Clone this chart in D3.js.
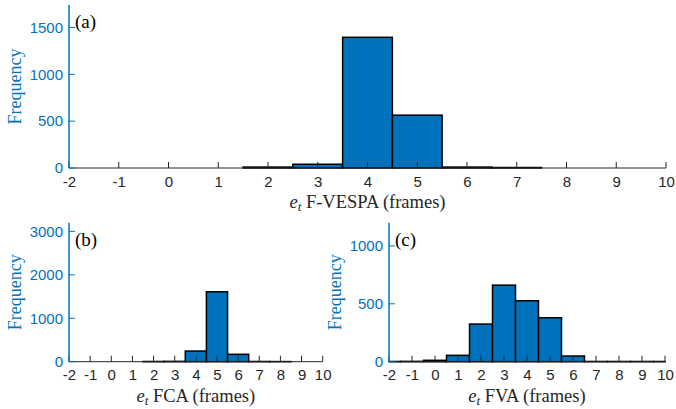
<!DOCTYPE html>
<html>
<head>
<meta charset="utf-8">
<script src="https://cdn.jsdelivr.net/npm/d3@7.9.0/dist/d3.min.js"></script>
<style>
  body { margin: 0; background: #fff; }
  svg { display: block; }
</style>
</head>
<body>
<svg id="chart" width="676" height="409"></svg>
<script>
// bin centres (frames), one bin per integer
const bins = [-2, -1, 0, 1, 2, 3, 4, 5, 6, 7, 8, 9, 10];
const xTicks = [-2, -1, 0, 1, 2, 3, 4, 5, 6, 7, 8, 9, 10];

// counts
const countsVespa = [0, 0, 0, 0, 10, 40, 1395, 564, 10, 5, 0, 0, 0];
const countsFca   = [0, 0, 0, 0, 5, 8, 245, 1610, 170, 5, 3, 0, 0];
const countsFva   = [2, 3, 12, 55, 325, 661, 526, 379, 49, 2, 2, 2, 2];

const yTicksVespa = [0, 500, 1000, 1500];
const yTicksFca   = [0, 1000, 2000, 3000];
const yTicksFva   = [0, 500, 1000];

const blue = '#0072BD';
const dark = '#262626';
const sans = '"Liberation Sans", Arial, sans-serif';
const serif = '"Liberation Serif", "DejaVu Serif", serif';
const svg = d3.select('#chart');

function drawPanel(opts) {
  const { left, right, top, bottom, yMax, yTicks, counts, tag, name, ylabelX } = opts;
  const x = d3.scaleLinear().domain([-2, 10]).range([left, right]);
  const y = d3.scaleLinear().domain([0, yMax]).range([bottom, top]);
  const g = svg.append('g');

  // bars (zero bins are not drawn)
  const data = bins.map((b, i) => ({ b, v: counts[i] })).filter(d => d.v > 0);
  g.selectAll('rect.bar').data(data).join('rect')
    .attr('class', 'bar')
    .attr('x', d => x(Math.max(-2, d.b - 0.5)))
    .attr('width', d => x(Math.min(10, d.b + 0.5)) - x(Math.max(-2, d.b - 0.5)))
    .attr('y', d => y(d.v))
    .attr('height', d => y(0) - y(d.v))
    .attr('fill', blue)
    .attr('stroke', '#000')
    .attr('stroke-width', 1.5);

  // x axis, ticks pointing inside
  const xa = g.append('g').attr('transform', `translate(0,${bottom})`)
    .call(d3.axisBottom(x).tickValues(xTicks).tickSize(0).tickPadding(8).tickFormat(d => String(d)));
  xa.select('.domain').remove();
  xa.selectAll('.tick text').attr('fill', dark).attr('font-family', sans).attr('font-size', 15);
  g.selectAll('line.xt').data(xTicks).join('line')
    .attr('x1', d => x(d)).attr('x2', d => x(d))
    .attr('y1', bottom).attr('y2', bottom - 6)
    .attr('stroke', dark).attr('stroke-width', 1);
  g.append('line').attr('x1', left).attr('x2', right).attr('y1', bottom).attr('y2', bottom)
    .attr('stroke', dark).attr('stroke-width', 1);

  // y axis, blue, ticks pointing inside
  const ya = g.append('g').attr('transform', `translate(${left},0)`)
    .call(d3.axisLeft(y).tickValues(yTicks).tickSize(0).tickPadding(6).tickFormat(d => String(d)));
  ya.select('.domain').remove();
  ya.selectAll('.tick text').attr('fill', blue).attr('font-family', sans).attr('font-size', 15);
  g.selectAll('line.yt').data(yTicks).join('line')
    .attr('x1', left).attr('x2', left + 6)
    .attr('y1', d => y(d)).attr('y2', d => y(d))
    .attr('stroke', blue).attr('stroke-width', 1);
  g.append('line').attr('x1', left).attr('x2', left).attr('y1', top).attr('y2', bottom)
    .attr('stroke', blue).attr('stroke-width', 1.5);

  // labels
  g.append('text')
    .attr('transform', `translate(${ylabelX},${(top + bottom) / 2}) rotate(-90)`)
    .attr('text-anchor', 'middle').attr('dominant-baseline', 'central')
    .attr('font-family', serif).attr('fill', blue).attr('font-size', 18).text('Frequency');

  const xl = g.append('text')
    .attr('x', (left + right) / 2).attr('y', bottom + 40)
    .attr('text-anchor', 'middle').attr('font-family', serif)
    .attr('fill', dark).attr('font-size', 18.5);
  xl.append('tspan').attr('font-style', 'italic').text('e');
  xl.append('tspan').attr('font-style', 'italic').attr('font-size', 13).attr('dy', 3).text('t');
  xl.append('tspan').attr('dy', -3).text(' ' + name + ' (frames)');

  g.append('text')
    .attr('x', left + 6).attr('y', top + 23)
    .attr('font-family', serif).attr('fill', '#000').attr('font-size', 19).text(tag);
}

drawPanel({ left: 69, right: 666, top: 5, bottom: 168, yMax: 1740, yTicks: yTicksVespa,
  counts: countsVespa, tag: '(a)', name: 'F-VESPA', ylabelX: 15 });
drawPanel({ left: 69, right: 322.7, top: 222.7, bottom: 361.7, yMax: 3200, yTicks: yTicksFca,
  counts: countsFca, tag: '(b)', name: 'FCA', ylabelX: 15 });
drawPanel({ left: 389, right: 665, top: 222.7, bottom: 361.7, yMax: 1200, yTicks: yTicksFva,
  counts: countsFva, tag: '(c)', name: 'FVA', ylabelX: 335 });
</script>
</body>
</html>
